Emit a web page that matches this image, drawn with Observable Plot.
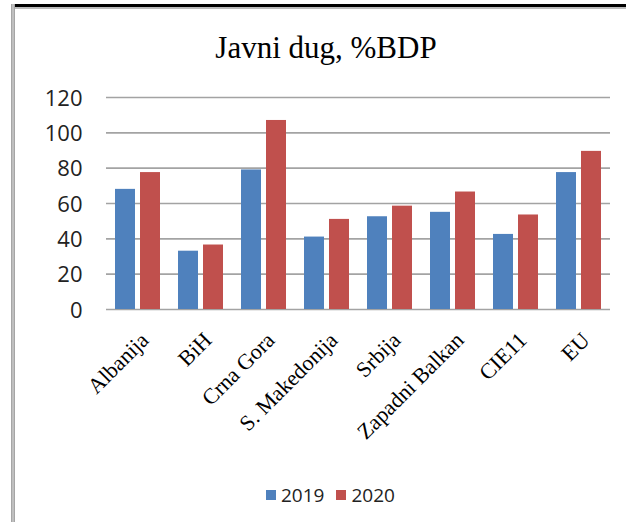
<!DOCTYPE html>
<html>
<head>
<meta charset="utf-8">
<script src="https://cdn.jsdelivr.net/npm/d3@7"></script>
<script src="https://cdn.jsdelivr.net/npm/@observablehq/plot@0.6"></script>
<style>
  html, body { margin: 0; padding: 0; background: #fff; }
  #wrap { position: relative; width: 626px; height: 522px; overflow: hidden; background: #fff; }
  #topline { position: absolute; left: 13px; top: 4px; width: 613px; height: 3px; background: #000; }
  #topshade { position: absolute; left: 13px; top: 7px; width: 613px; height: 2px; background: #bbb; }
  #leftline { position: absolute; left: 11px; top: 4px; width: 4px; height: 518px; background: linear-gradient(to right, #999, #ccc, #999); }
  #title { position: absolute; left: 0; width: 652px; top: 32px; text-align: center; font-family: "Liberation Serif", "Times New Roman", serif; font-size: 31px; line-height: 31px; color: #000; }
  #chart { position: absolute; left: 0; top: 75px; }
  #legend { position: absolute; left: 266px; top: 484px; font-family: "Open Sans", sans-serif; font-size: 19px; line-height: 22px; color: #222; display: flex; align-items: center; white-space: nowrap; }
  .sw { display: inline-block; width: 10px; height: 10px; margin-right: 5px; }
</style>
</head>
<body>
<div id="wrap">
  <div id="topline"></div>
  <div id="topshade"></div>
  <div id="leftline"></div>
  <div id="title">Javni dug, %BDP</div>
  <div id="chart"></div>
  <div id="legend"></div>
</div>
<script>
const titleText = "Javni dug, %BDP";
const categories = ["Albanija", "BiH", "Crna Gora", "S. Makedonija", "Srbija", "Zapadni Balkan", "CIE11", "EU"];
const years = ["2019", "2020"];
const values2019 = [68, 33, 79, 41, 52.5, 55, 42.5, 77.5];
const values2020 = [77.5, 36.5, 107, 51, 58.5, 66.5, 53.5, 89.5];
const yTicks = [0, 20, 40, 60, 80, 100, 120];
const colors = ["#4f81bd", "#c0504d"];

const table = [];
categories.forEach((c, i) => {
  table.push({category: c, year: years[0], value: values2019[i]});
  table.push({category: c, year: years[1], value: values2020[i]});
});

const chart = Plot.plot({
  width: 626,
  height: 380,
  marginTop: 22,
  marginBottom: 146,
  marginLeft: 106,
  marginRight: 16,
  style: {background: "transparent"},
  fx: {domain: categories, padding: 0, label: null},
  x: {domain: years, paddingInner: 0.2, paddingOuter: 0.36, axis: null},
  y: {domain: [0, 120], label: null},
  color: {domain: years, range: colors},
  marks: [
    Plot.gridY(yTicks, {stroke: "#a3a3a3", strokeOpacity: 1, strokeWidth: 1.6}),
    Plot.barY(table, {fx: "category", x: "year", y: "value", fill: "year"}),
    Plot.axisY(yTicks, {tickSize: 0, tickPadding: 24, label: null, fontSize: 22, fontFamily: "Open Sans, sans-serif", fill: "#222", dy: 1}),
    Plot.axisFx({anchor: "bottom", tickRotate: -45, tickSize: 0, tickPadding: 27, dx: 7, label: null, fontSize: 22, fontFamily: "Liberation Serif, serif", fill: "#000"})
  ]
});
document.getElementById("chart").appendChild(chart);

document.getElementById("title").textContent = titleText;
const legend = document.getElementById("legend");
years.forEach((y, i) => {
  const sw = document.createElement("span");
  sw.className = "sw";
  sw.style.background = colors[i];
  legend.appendChild(sw);
  const t = document.createElement("span");
  t.textContent = y;
  t.style.marginRight = i === 0 ? "12px" : "0";
  legend.appendChild(t);
});
</script>
</body>
</html>
